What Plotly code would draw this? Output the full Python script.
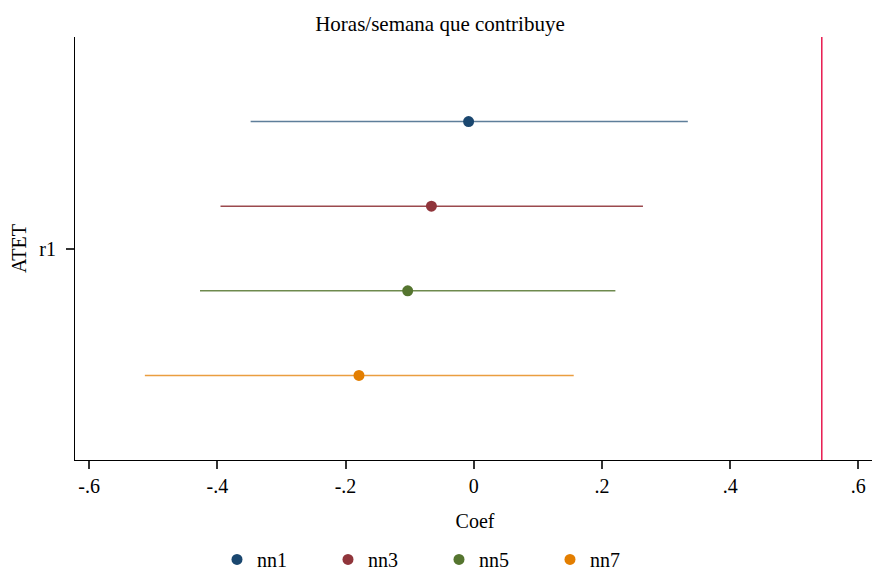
import plotly.graph_objects as go

series = ["nn1", "nn3", "nn5", "nn7"]
coef = [-0.008, -0.066, -0.103, -0.179]
ci_low = [-0.348, -0.395, -0.427, -0.513]
ci_high = [0.334, 0.264, 0.221, 0.156]
colors = ["#1a476f", "#90353b", "#55752f", "#e37e00"]
line_colors = ["rgba(26,71,111,0.7)", "rgba(144,53,59,0.9)", "rgba(85,117,47,0.85)", "rgba(227,126,0,0.75)"]
ref_line = 0.543
x_ticks = [-0.6, -0.4, -0.2, 0, 0.2, 0.4, 0.6]
x_tick_labels = ["-.6", "-.4", "-.2", "0", ".2", ".4", ".6"]
y_tick_labels = ["r1"]

FONT = "Liberation Serif, Times New Roman, serif"
FS = 20

fig = go.Figure()
n = len(series)
for i, name in enumerate(series):
    ypos = (n - 1) / 2 - i
    fig.add_trace(go.Scatter(
        x=[ci_low[i], ci_high[i]], y=[ypos, ypos], mode="lines",
        line=dict(color=line_colors[i], width=1.5),
        showlegend=False, hoverinfo="skip"))
    fig.add_trace(go.Scatter(
        x=[coef[i]], y=[ypos], mode="markers", name=name,
        marker=dict(color=colors[i], size=11)))

fig.add_shape(type="line", xref="x", yref="paper", x0=ref_line, x1=ref_line, y0=0, y1=1,
              line=dict(color="#e8194f", width=1.5))

# page body has an 8px margin; compensate so the plot lands where the reference has it
fig.update_layout(
    width=872, height=565,
    margin=dict(l=67, r=5, t=29, b=113, autoexpand=False),
    paper_bgcolor="white", plot_bgcolor="white",
    font=dict(family=FONT, size=FS, color="black"),
    title=dict(text="Horas/semana que contribuye", x=0.4954, xanchor="center", xref="container",
               y=0.985, yanchor="top", font=dict(family=FONT, size=21), automargin=False),
    showlegend=True,
    legend=dict(orientation="h", x=0.1775, xanchor="left", y=-0.189, yanchor="top",
                font=dict(family=FONT, size=FS), itemwidth=30, tracegroupgap=0,
                entrywidth=66, entrywidthmode="pixels"),
)
fig.update_xaxes(
    range=[-0.622, 0.626], tickvals=x_ticks, ticktext=x_tick_labels, automargin=False,
    showgrid=False, zeroline=False, showline=True, linecolor="black", linewidth=1,
    ticks="outside", ticklen=8, tickcolor="#333", tickwidth=1.5, ticklabelstandoff=0,
    title=dict(text="Coef", standoff=17, font=dict(family=FONT, size=FS)),
)
fig.update_yaxes(
    range=[-2.5, 2.5], tickvals=[0], ticktext=y_tick_labels, automargin=False,
    showgrid=False, zeroline=False, showline=True, linecolor="black", linewidth=1,
    ticks="outside", ticklen=8, tickcolor="#333", tickwidth=1.5, ticklabelstandoff=6,
    title=dict(text="ATET", standoff=10, font=dict(family=FONT, size=FS)),
)

fig.write_html("out.html")
